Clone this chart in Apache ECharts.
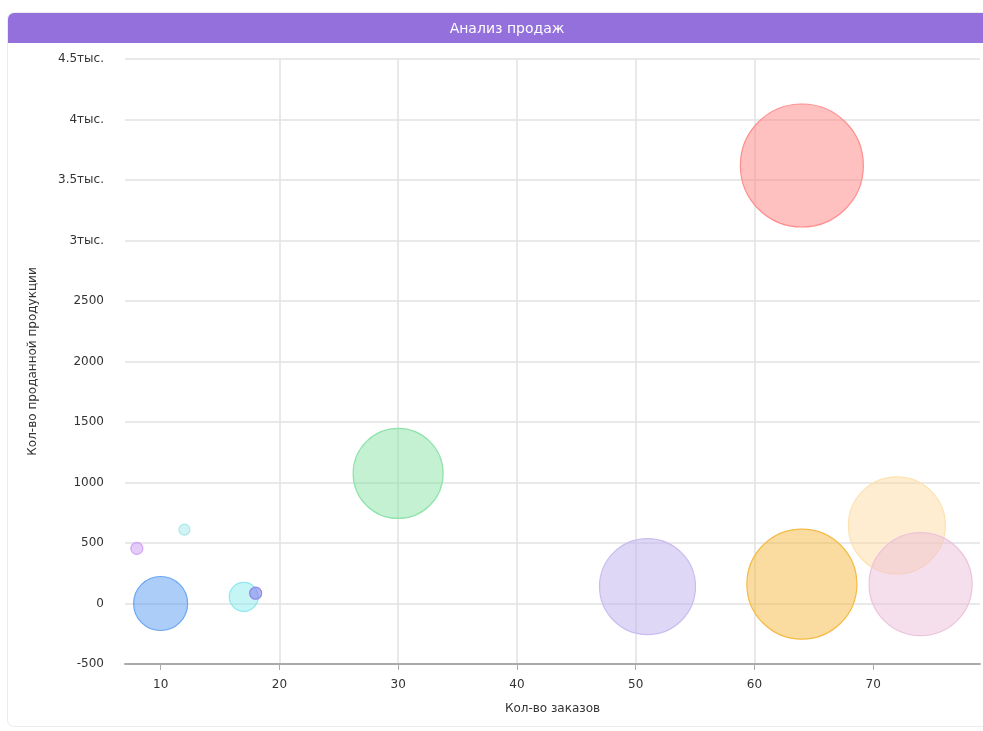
<!DOCTYPE html>
<html>
<head>
<meta charset="utf-8">
<script src="https://cdn.jsdelivr.net/npm/echarts@6/dist/echarts.min.js"></script>
<style>
html,body{margin:0;padding:0;background:#fff;}
#chart{width:983px;height:731px;}
</style>
</head>
<body>
<div id="chart"></div>
<script>
// ---- data ----
var titleText = 'Анализ продаж';
var xAxisName = 'Кол-во заказов';
var yAxisName = 'Кол-во проданной продукции';
var categories = ['P1','P2','P3','P4','P5','P6','P7','P8','P9','P10','P11'];
var orders   = [10, 17, 8, 12, 18, 30, 64, 51, 64, 72, 74];
var products = [0, 55, 455, 610, 85, 1075, 3620, 140, 160, 645, 160];
var weights  = [54, 29, 12, 11, 12, 90, 123, 96, 110, 97, 103];
var xTicks = [10, 20, 30, 40, 50, 60, 70];
var yTicks = [-500, 0, 500, 1000, 1500, 2000, 2500, 3000, 3500, 4000, 4500];

var fills = ['rgba(80,150,240,0.48)','rgba(128,232,236,0.45)','rgba(195,140,245,0.45)','rgba(140,225,225,0.4)',
  'rgba(120,110,235,0.5)','rgba(130,225,160,0.48)','rgba(255,130,130,0.5)','rgba(190,175,238,0.5)',
  'rgba(245,185,65,0.5)','rgba(253,215,150,0.45)','rgba(238,192,218,0.5)'];
var borders = ['#6aa6f3','#8ee8ee','#d0a6f5','#a8e8e8','#9386e8','#90e3ac','#ff8e8e','#c9bdf0','#f5ba45','#fde2b0','#ecc3da'];

var series = categories.map(function(c, i){
  return {
    name: c,
    type: 'scatter',
    data: [[orders[i], products[i], weights[i]]],
    symbolSize: function(v){ return v[2]; },
    itemStyle: { color: fills[i], borderColor: borders[i], borderWidth: 1.2, opacity: 1 },
    emphasis: { disabled: true }
  };
});

var chart = echarts.init(document.getElementById('chart'), null, {renderer:'canvas'});
chart.setOption({
  animation: false,
  textStyle: { fontFamily: 'DejaVu Sans' },
  graphic: [
    { type:'rect', z: -1, shape:{x:7.5, y:12.5, width:990, height:714, r:6}, style:{fill:'#fff', stroke:'#ececec', lineWidth:1} },
    { type:'rect', z: 0, shape:{x:8, y:13, width:990, height:30, r:[6,6,0,0]}, style:{fill:'#9370db'} }
  ],
  title: {
    text: titleText,
    left: 502, top: 17, textAlign: 'center',
    textStyle: { color:'#fff', fontSize: 14, fontWeight: 'normal', fontFamily: 'DejaVu Sans' }
  },
  grid: { left: 125, right: 3, top: 59, bottom: 67, containLabel: false },
  xAxis: {
    type: 'value', min: 7, max: 79,
    name: xAxisName, nameLocation: 'middle', nameGap: 39,
    nameTextStyle: { color:'#333', fontSize: 12, fontFamily: 'DejaVu Sans' },
    axisLine: { show: true, onZero: false, lineStyle: { color:'#aaa', width: 2 } },
    axisTick: { show: true, length: 6, lineStyle:{color:'#aaa'}, customValues: xTicks },
    axisLabel: { color:'#333', fontSize: 12, margin: 15, fontFamily: 'DejaVu Sans', customValues: xTicks },
    splitLine: { show: true, showMinLine:false, showMaxLine:false, lineStyle: { color:'#e2e2e2', width: 1.5 } }
  },
  yAxis: {
    type: 'value', min: -500, max: 4500, interval: 500,
    name: yAxisName, nameLocation: 'middle', nameGap: 86, nameRotate: 90,
    nameTextStyle: { color:'#333', fontSize: 12, fontFamily: 'DejaVu Sans' },
    axisLine: { show: false },
    axisTick: { show: false },
    axisLabel: { color:'#333', fontSize: 12, margin: 21, fontFamily: 'DejaVu Sans',
      formatter: function(v){ return v >= 3000 ? (v/1000) + 'тыс.' : String(v); } },
    splitLine: { show: true, lineStyle: { color:'#e2e2e2', width: 1.5 } }
  },
  series: series
});
</script>
</body>
</html>
